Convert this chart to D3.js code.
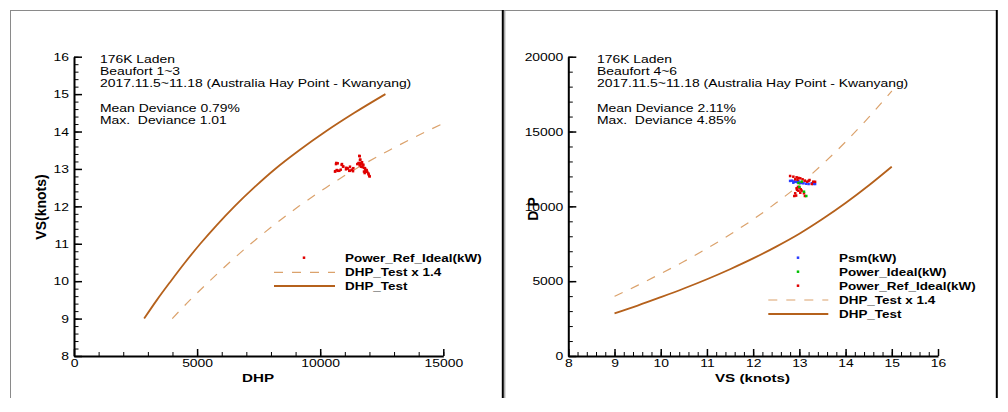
<!DOCTYPE html>
<html>
<head>
<meta charset="utf-8">
<script src="https://cdn.jsdelivr.net/npm/d3@7"></script>
<style>
  html, body { margin: 0; padding: 0; background: #fff; }
  svg { display: block; font-family: "Liberation Sans", Arial, sans-serif; }
  text { white-space: pre; }
</style>
</head>
<body>
<svg id="chart" width="1008" height="412"></svg>
<script>
// ---------------- DATA ----------------
const testSpeeds = [9, 9.5, 10, 10.5, 11, 11.5, 12, 12.5, 13, 13.5, 14, 14.5, 15];
const dhpTest    = [2850, 3370, 3930, 4510, 5130, 5800, 6520, 7310, 8170, 9150, 10220, 11390, 12650];
const dhpTest14  = [3990, 4718, 5502, 6314, 7182, 8120, 9128, 10234, 11438, 12810, 14308, 15946, 17710];

// Left chart: Power_Ref_Ideal (x = DHP, y = VS)
const leftRefDHP = [10601,10613,10654,10642,10670,10710,10723,10776,10833,10873,10885,10926,10938,11048,11060,11101,11129,11182,11198,11210,11279,11292,11333,11345,11507,11562,11564,11589,11604,11616,11629,11657,11669,11684,11738,11750,11779,11779,11807,11820,11832,11888,11913,11955,11970,11996,12010,11640,11700,11720,11600,11860];
const leftRefVS  = [12.93,12.94,13.16,13.13,12.97,13.15,12.95,12.95,12.98,13.11,13.13,13.07,13.06,12.99,13.03,13.02,13.01,12.95,12.95,13.06,12.97,12.98,12.94,13.02,13.13,13.15,13.16,13.35,13.34,13.24,13.25,13.06,13.16,13.15,13.11,13.11,13.03,12.93,12.89,13.02,12.98,12.97,12.92,12.88,12.85,12.81,12.80,13.12,13.18,13.05,13.10,12.93];

// Right chart (x = VS, y = DP)
const psmVS  = [12.80,12.84,12.87,12.91,12.95,13.02,13.05,13.09,13.15,13.20,13.27,13.30,13.34,12.98,12.88];
const psmDP  = [11700,11714,11580,11647,11620,11580,11560,11540,11510,11493,11540,11500,11493,11680,11660];
const idealVS = [13.05,12.98,13.10,13.15,13.00];
const idealDP = [11647,11560,10979,10691,11300];
const refVS = [12.80,12.87,12.94,12.98,13.02,13.07,13.12,13.17,13.30,13.34,13.27,12.91,12.96,12.94,12.98,12.91,12.89,12.93,13.02,13.10,13.12,13.03,12.97,13.00,12.95,13.05,13.20,13.22];
const refDP = [12028,11982,11940,11900,11874,11807,11714,11647,11647,11640,11493,11807,11780,11206,11045,10872,10691,10720,10912,10872,10691,11139,11300,11250,11100,11050,11700,11760];

const leftXTicks = [0, 5000, 10000, 15000];
const leftYTicks = [8, 9, 10, 11, 12, 13, 14, 15, 16];
const rightXTicks = [8, 9, 10, 11, 12, 13, 14, 15, 16];
const rightYTicks = [0, 5000, 10000, 15000, 20000];

const leftNotes = ["176K Laden", "Beaufort 1~3", "2017.11.5~11.18 (Australia Hay Point - Kwanyang)", "Mean Deviance 0.79%", "Max.  Deviance 1.01"];
const rightNotes = ["176K Laden", "Beaufort 4~6", "2017.11.5~11.18 (Australia Hay Point - Kwanyang)", "Mean Deviance 2.11%", "Max.  Deviance 4.85%"];
const leftLegend = ["Power_Ref_Ideal(kW)", "DHP_Test x 1.4", "DHP_Test"];
const rightLegend = ["Psm(kW)", "Power_Ideal(kW)", "Power_Ref_Ideal(kW)", "DHP_Test x 1.4", "DHP_Test"];

// ---------------- STYLE ----------------
const SOLID = "#b5611c", DASH = "#dba26c";
const RED = "#e00000", BLUE = "#2a3cff", GREEN = "#00c000";
const SX = 1.21;

const svg = d3.select("#chart");

function txt(g, x, y, s, o = {}) {
  const size = o.size || 11.5, sx = o.sx || SX;
  return g.append("text")
    .attr("transform", `translate(${x},${y}) scale(${sx},1)` + (o.rotate ? ` rotate(${o.rotate})` : ""))
    .attr("font-size", size)
    .attr("font-weight", o.weight || "normal")
    .attr("text-anchor", o.anchor || "start")
    .attr("letter-spacing", o.ls || null)
    .attr("fill", "#000")
    .text(s);
}

function styleAxis(sel, isY) {
  sel.select(".domain").attr("stroke", "#000").attr("stroke-width", 2);
  sel.selectAll(".tick line").attr("stroke", "#000").attr("stroke-width", 1.5);
  sel.selectAll(".tick text")
    .attr("font-size", 11.5)
    .attr("font-family", "Liberation Sans, Arial, sans-serif")
    .attr("fill", "#000")
    .attr("transform", `scale(${SX},1)`);
  if (isY) sel.selectAll(".tick text").attr("x", -5 / SX);
  else sel.selectAll(".tick text").attr("x", 0);
}

function axes(g, x, y, xMajor, xMinor, yMajor, yMinor) {
  const [x0] = x.range();
  const [y0] = y.range();
  const yMin = g.append("g").attr("transform", `translate(${x0},0)`)
    .call(d3.axisLeft(y).tickValues(yMinor).tickSize(-4.5).tickFormat(""));
  yMin.select(".domain").remove();
  yMin.selectAll("line").attr("stroke", "#000").attr("stroke-width", 1);
  const xMin = g.append("g").attr("transform", `translate(0,${y0})`)
    .call(d3.axisBottom(x).tickValues(xMinor).tickSize(-4).tickFormat(""));
  xMin.select(".domain").remove();
  xMin.selectAll("line").attr("stroke", "#000").attr("stroke-width", 1);
  const ya = g.append("g").attr("transform", `translate(${x0},0)`)
    .call(d3.axisLeft(y).tickValues(yMajor).tickSizeInner(-8).tickSizeOuter(0).tickPadding(5).tickFormat(d3.format("d")));
  styleAxis(ya, true);
  const xa = g.append("g").attr("transform", `translate(0,${y0})`)
    .call(d3.axisBottom(x).tickValues(xMajor).tickSizeInner(-7).tickSizeOuter(0).tickPadding(3).tickFormat(d3.format("d")));
  styleAxis(xa, false);
}

function notes(g, x, lines) {
  const base = [63.3, 75.3, 87.3, 112.3, 124.3];
  lines.forEach((s, i) => txt(g, x, base[i], s));
}

function marks(g, pts, color) {
  g.selectAll(null).data(pts).enter().append("rect")
    .attr("x", d => d[0] - 1.25).attr("y", d => d[1] - 1.25)
    .attr("width", 2.5).attr("height", 2.5).attr("fill", color);
}

// ---------------- FRAMES ----------------
const frame = svg.append("g");
frame.append("line").attr("x1", 10.5).attr("x2", 10.5).attr("y1", 10).attr("y2", 398).attr("stroke", "#8a8a8a").attr("stroke-width", 1);
frame.append("line").attr("x1", 10).attr("x2", 997).attr("y1", 10.5).attr("y2", 10.5).attr("stroke", "#8a8a8a").attr("stroke-width", 1);
frame.append("line").attr("x1", 502.8).attr("x2", 502.8).attr("y1", 10).attr("y2", 398).attr("stroke", "#000").attr("stroke-width", 2);
frame.append("line").attr("x1", 504.8).attr("x2", 504.8).attr("y1", 10).attr("y2", 398).attr("stroke", "#8a8a8a").attr("stroke-width", 1);
frame.append("line").attr("x1", 996.8).attr("x2", 996.8).attr("y1", 10).attr("y2", 398).attr("stroke", "#000").attr("stroke-width", 2);

// ---------------- LEFT CHART ----------------
{
  const g = svg.append("g");
  const x = d3.scaleLinear().domain([0, 15000]).range([74, 443.3]);
  const y = d3.scaleLinear().domain([8, 16]).range([356, 56.7]);
  g.append("clipPath").attr("id", "clipL").append("rect")
    .attr("x", 74).attr("y", 56.7).attr("width", 443.3 - 74).attr("height", 356 - 56.7);

  const solid = testSpeeds.map((v, i) => [dhpTest[i], v]);
  const dashed = testSpeeds.map((v, i) => [dhpTest14[i], v]);
  const line = d3.line().curve(d3.curveMonotoneX).x(d => x(d[0])).y(d => y(d[1]));
  const pg = g.append("g").attr("clip-path", "url(#clipL)");
  pg.append("path").datum(dashed).attr("d", line).attr("fill", "none").attr("stroke", DASH).attr("stroke-width", 1.2).attr("stroke-dasharray", "9,9");
  pg.append("path").datum(solid).attr("d", line).attr("fill", "none").attr("stroke", SOLID).attr("stroke-width", 1.8);
  marks(pg, leftRefDHP.map((d, i) => [x(d), y(leftRefVS[i])]), RED);

  axes(g, x, y, leftXTicks, d3.range(0, 15001, 1000), leftYTicks, d3.range(8, 16.001, 0.2));

  txt(g, 258, 382, "DHP", { size: 11.5, weight: "bold", anchor: "middle", sx: 1.32 });
  txt(g, 45.5, 207, "VS(knots)", { size: 14, weight: "bold", anchor: "middle", sx: 1.1, rotate: -90 });
  notes(g, 100, leftNotes);

  const lb = [261.7, 276, 290];
  leftLegend.forEach((s, i) => txt(g, 345, lb[i], s, { weight: "bold", sx: 1.17 }));
  marks(g, [[304, 257.7]], RED);
  g.append("line").attr("x1", 274).attr("x2", 335).attr("y1", 272.3).attr("y2", 272.3).attr("stroke", DASH).attr("stroke-width", 1.2).attr("stroke-dasharray", "9,9");
  g.append("line").attr("x1", 274).attr("x2", 335).attr("y1", 286).attr("y2", 286).attr("stroke", SOLID).attr("stroke-width", 1.8);
}

// ---------------- RIGHT CHART ----------------
{
  const g = svg.append("g");
  const x = d3.scaleLinear().domain([8, 16]).range([568.3, 938]);
  const y = d3.scaleLinear().domain([0, 20000]).range([356, 56.7]);
  g.append("clipPath").attr("id", "clipR").append("rect")
    .attr("x", 568.3).attr("y", 56.7).attr("width", 938 - 568.3).attr("height", 356 - 56.7);

  const solid = testSpeeds.map((v, i) => [v, dhpTest[i]]);
  const dashed = testSpeeds.map((v, i) => [v, dhpTest14[i]]);
  const line = d3.line().curve(d3.curveMonotoneX).x(d => x(d[0])).y(d => y(d[1]));
  const pg = g.append("g").attr("clip-path", "url(#clipR)");
  pg.append("path").datum(dashed).attr("d", line).attr("fill", "none").attr("stroke", DASH).attr("stroke-width", 1.2).attr("stroke-dasharray", "9,9");
  pg.append("path").datum(solid).attr("d", line).attr("fill", "none").attr("stroke", SOLID).attr("stroke-width", 1.8);
  marks(pg, psmVS.map((d, i) => [x(d), y(psmDP[i])]), BLUE);
  marks(pg, refVS.map((d, i) => [x(d), y(refDP[i])]), RED);
  marks(pg, idealVS.map((d, i) => [x(d), y(idealDP[i])]), GREEN);

  axes(g, x, y, rightXTicks, d3.range(8, 16.001, 0.2), rightYTicks, d3.range(0, 20001, 1000));

  txt(g, 752.5, 382, "VS (knots)", { size: 11.5, weight: "bold", anchor: "middle", sx: 1.32 });
  txt(g, 538, 207, "DP", { size: 14, weight: "bold", anchor: "middle", sx: 1.1, rotate: -90, ls: "4px" });
  notes(g, 597, rightNotes);

  const lb = [261.7, 276, 290, 304.3, 318.3];
  rightLegend.forEach((s, i) => txt(g, 839, lb[i], s, { weight: "bold", sx: 1.17 }));
  marks(g, [[798, 257.7]], BLUE);
  marks(g, [[798, 271.7]], GREEN);
  marks(g, [[798, 285.7]], RED);
  g.append("line").attr("x1", 768.3).attr("x2", 828.3).attr("y1", 300).attr("y2", 300).attr("stroke", DASH).attr("stroke-width", 1.2).attr("stroke-dasharray", "9,9");
  g.append("line").attr("x1", 768.3).attr("x2", 828.3).attr("y1", 314).attr("y2", 314).attr("stroke", SOLID).attr("stroke-width", 1.8);
}
</script>
</body>
</html>
